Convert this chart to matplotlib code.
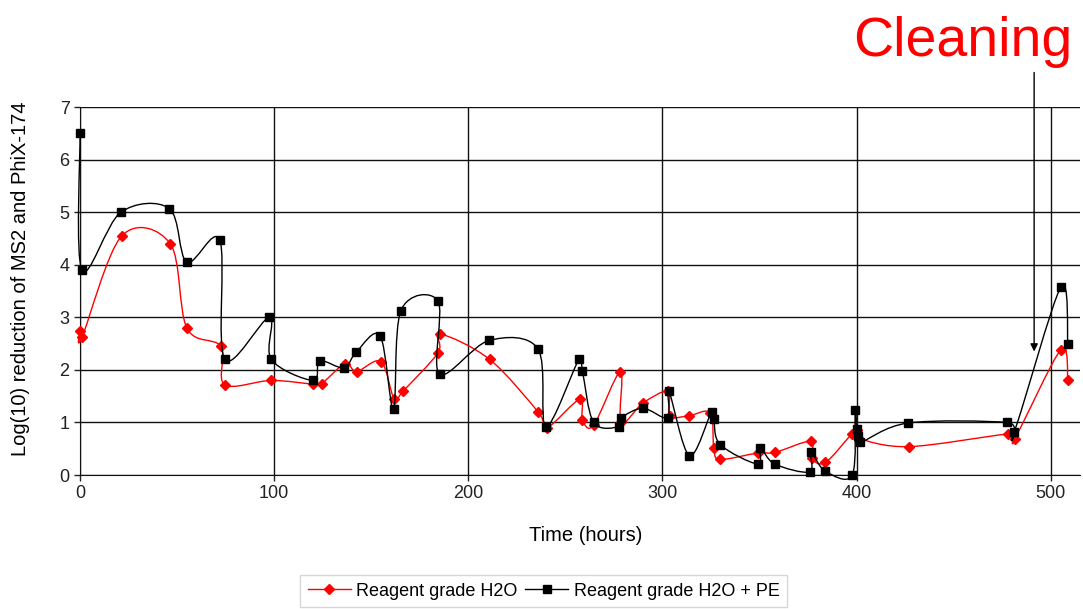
import numpy as np
import matplotlib
matplotlib.use("Agg")
import matplotlib.pyplot as plt
from matplotlib.path import Path
from matplotlib.patches import PathPatch
from matplotlib.lines import Line2D

plt.rcParams['font.family'] = ['Liberation Sans', 'DejaVu Sans']

# Reagent grade H2O (red)
red_t = [0, 1, 21.5, 46.5, 55, 72.5, 74.5, 98.5, 120, 124.5, 136.5, 142.5, 155,
         161.8, 166.5, 184.5, 185.5, 211, 236, 240.5, 257.4, 258.8, 264.6, 278.4,
         278.7, 290, 302.9, 303.8, 313.9, 324.7, 326.5, 329.9, 349.3, 358, 376.3,
         377, 384, 397.5, 400, 401, 427, 478, 481.4, 505.2, 508.9]
red_v = [2.75, 2.62, 4.55, 4.4, 2.8, 2.45, 1.72, 1.8, 1.73, 1.74, 2.12, 1.97, 2.16,
         1.45, 1.6, 2.33, 2.68, 2.2, 1.2, 0.9, 1.44, 1.05, 0.95, 1.97,
         1.0, 1.37, 1.59, 1.12, 1.13, 1.18, 0.51, 0.3, 0.42, 0.43, 0.64,
         0.32, 0.24, 0.78, 0.85, 0.7, 0.54, 0.78, 0.69, 2.38, 1.8]

# Reagent grade H2O + PE (black)
blk_t = [0, 1, 21, 46, 55, 72, 74.5, 97.5, 98.5, 120, 123.5, 136, 142.3, 154.6,
         161.5, 165.3, 184.4, 185.2, 210.7, 235.9, 240, 257, 258.8, 264.6, 277.8,
         278.9, 290, 302.7, 303.3, 313.9, 325.3, 326.5, 329.8, 349, 350.5, 357.8,
         375.8, 376.5, 383.7, 397.8, 399.3, 400.2, 401, 402, 426.6, 477.7, 481.1,
         505.2, 508.9]
blk_v = [6.5, 3.9, 5.0, 5.07, 4.05, 4.47, 2.2, 3.0, 2.2, 1.8, 2.17, 2.04, 2.34, 2.65,
         1.25, 3.13, 3.31, 1.92, 2.56, 2.4, 0.92, 2.2, 1.98, 1.0, 0.92,
         1.09, 1.27, 1.09, 1.6, 0.37, 1.2, 1.06, 0.58, 0.21, 0.51, 0.21,
         0.06, 0.44, 0.08, 0.0, 1.24, 0.87, 0.74, 0.62, 0.99, 1.0, 0.81,
         3.57, 2.5]

x_ticks = [0, 100, 200, 300, 400, 500]
y_ticks = [0, 1, 2, 3, 4, 5, 6, 7]


def smooth_path(xs, ys):
    """Excel-like smooth line: cubic Bezier segments with Catmull-Rom control points."""
    P = np.column_stack([xs, ys]).astype(float)
    n = len(P)
    verts = [P[0]]
    codes = [Path.MOVETO]
    for i in range(n - 1):
        p0 = P[i - 1] if i > 0 else P[i]
        p1 = P[i]
        p2 = P[i + 1]
        p3 = P[i + 2] if i + 2 < n else P[i + 1]
        c1 = p1 + (p2 - p0) / 6.0
        c2 = p2 - (p3 - p1) / 6.0
        verts += [c1, c2, p2]
        codes += [Path.CURVE4] * 3
    return Path(verts, codes)


fig = plt.figure(figsize=(10.83, 6.09), dpi=100)
ax = fig.add_axes([0.0739, 0.22, 0.9231, 0.604])

red_col = '#FF0000'
ax.add_patch(PathPatch(smooth_path(red_t, red_v), facecolor='none', edgecolor=red_col,
                       lw=1.0, zorder=3, clip_on=False))
ax.plot(red_t, red_v, linestyle='none', marker='D', markersize=5.5, color=red_col,
        zorder=4, clip_on=False)
ax.add_patch(PathPatch(smooth_path(blk_t, blk_v), facecolor='none', edgecolor='black',
                       lw=1.0, zorder=5, clip_on=False))
ax.plot(blk_t, blk_v, linestyle='none', marker='s', markersize=6, color='black',
        zorder=6, clip_on=False)

ax.set_xlim(0, 515)
ax.set_ylim(0, 7)
ax.set_xticks(x_ticks)
ax.set_yticks(y_ticks)
ax.tick_params(axis='both', labelsize=13, colors='#222222', length=4, width=1)
ax.grid(True, color='#111111', lw=1.0)
ax.set_axisbelow(True)
for s in ['top', 'right']:
    ax.spines[s].set_visible(False)
ax.spines['left'].set_color('#111111')
ax.spines['bottom'].set_color('#111111')

ax.set_xlabel('Time (hours)', fontsize=14.5)
ax.set_ylabel('Log(10) reduction of MS2 and PhiX-174', fontsize=14.5)
ax.xaxis.set_label_coords(0.506, -0.138)
ax.yaxis.set_label_coords(-0.05, 0.533)

# Cleaning annotation
ax.annotate('', xy=(491.5, 2.35), xytext=(491.5, 7.66), annotation_clip=False,
            arrowprops=dict(arrowstyle='-|>', color='black', lw=1.0, mutation_scale=11,
                            shrinkA=0, shrinkB=0))
fig.text(0.889, 0.931, 'Cleaning', color=red_col, fontsize=40, ha='center', va='center')

handles = [Line2D([], [], color=red_col, marker='D', markersize=5.5, lw=1.0),
           Line2D([], [], color='black', marker='s', markersize=6, lw=1.0)]
leg = fig.legend(handles, ['Reagent grade H2O', 'Reagent grade H2O + PE'],
                 loc='upper center', bbox_to_anchor=(0.502, 0.07), ncol=2,
                 fontsize=13, frameon=True, fancybox=False, handlelength=2.4,
                 columnspacing=0.4, handletextpad=0.3, borderpad=0.4)
leg.get_frame().set_edgecolor('#CCCCCC')
leg.get_frame().set_linewidth(1.0)

fig.savefig('out.png', dpi=100)
